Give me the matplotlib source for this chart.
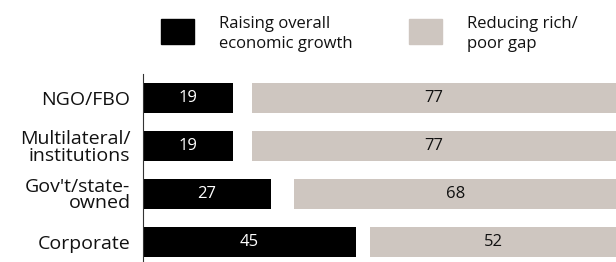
import matplotlib.pyplot as plt
from matplotlib.patches import Rectangle

# datos
categorias = ["NGO/FBO", "Multilateral/\ninstitutions", "Gov't/state-\nowned", "Corporate"]
crecimiento = [19, 19, 27, 45]
brecha = [77, 77, 68, 52]
leyenda = ["Raising overall\neconomic growth", "Reducing rich/\npoor gap"]

negro = "#000000"
gris = "#CEC6C0"

plt.rcParams['font.family'] = ['Open Sans', 'DejaVu Sans']

fig = plt.figure(figsize=(6.16, 2.62), dpi=100)
ax = fig.add_axes([143 / 616, 0.0, 1 - 143 / 616, 1 - 74 / 262])

pos = list(range(len(categorias) - 1, -1, -1))
alto = 0.625

ax.barh(pos, crecimiento, height=alto, color=negro)
ax.barh(pos, brecha, left=[100 - b for b in brecha], height=alto, color=gris)

for y, c, b in zip(pos, crecimiento, brecha):
    ax.text(c / 2, y, str(c), color="white", ha="center", va="center", fontsize=12)
    ax.text(100 - b / 2, y, str(b), color="#111111", ha="center", va="center", fontsize=12)

ax.set_xlim(0, 100)
ax.set_ylim(-0.42, 3.5)
ax.set_yticks(pos)
ax.set_yticklabels(categorias, fontsize=14, linespacing=0.9, color="#111111")
ax.tick_params(axis="y", length=0, pad=9)
ax.set_xticks([])
for lado in ["top", "right", "bottom"]:
    ax.spines[lado].set_visible(False)
ax.spines["left"].set_linewidth(0.8)
ax.spines["left"].set_color("#333333")

# leyenda a mano
fig.patches.append(Rectangle((161 / 616, 1 - 44 / 262), 33 / 616, 25 / 262,
                             transform=fig.transFigure, color=negro))
fig.patches.append(Rectangle((409 / 616, 1 - 44 / 262), 33 / 616, 25 / 262,
                             transform=fig.transFigure, color=gris))
fig.text(219 / 616, 1 - 34 / 262, leyenda[0], fontsize=12, va="center", ha="left",
         linespacing=1.25, color="#111111")
fig.text(467 / 616, 1 - 34 / 262, leyenda[1], fontsize=12, va="center", ha="left",
         linespacing=1.25, color="#111111")

plt.savefig("out.png", dpi=100)
